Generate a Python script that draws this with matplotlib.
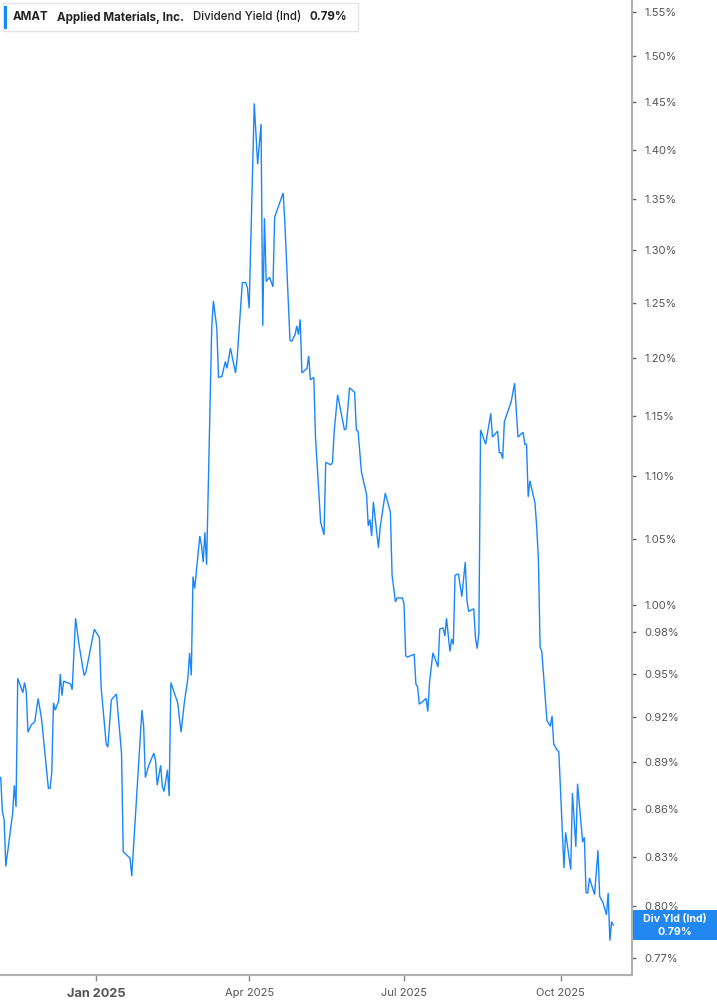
import pandas as pd
import matplotlib
matplotlib.use("Agg")
import matplotlib.pyplot as plt
import matplotlib.dates as mdates
from matplotlib.ticker import FixedLocator, NullLocator, FuncFormatter
from matplotlib.patches import Rectangle

plt.rcParams['font.family'] = ['Inter', 'DejaVu Sans']

# AMAT dividend yield (indicated), values in percent
dates = [
    "2024-11-06", "2024-11-07", "2024-11-08", "2024-11-09", "2024-11-10", "2024-11-12",
    "2024-11-13", "2024-11-14", "2024-11-15", "2024-11-16", "2024-11-19", "2024-11-20",
    "2024-11-21", "2024-11-22", "2024-11-24", "2024-11-26", "2024-11-28", "2024-11-30",
    "2024-12-04", "2024-12-05", "2024-12-06", "2024-12-07", "2024-12-08", "2024-12-10",
    "2024-12-11", "2024-12-12", "2024-12-13", "2024-12-17", "2024-12-18", "2024-12-20",
    "2024-12-22", "2024-12-25", "2024-12-26", "2024-12-27", "2024-12-31", "2025-01-03",
    "2025-01-04", "2025-01-07", "2025-01-08", "2025-01-10", "2025-01-13", "2025-01-16",
    "2025-01-17", "2025-01-21", "2025-01-22", "2025-01-28", "2025-01-29", "2025-01-30",
    "2025-02-01", "2025-02-04", "2025-02-05", "2025-02-06", "2025-02-08", "2025-02-09",
    "2025-02-10", "2025-02-12", "2025-02-13", "2025-02-14", "2025-02-18", "2025-02-20",
    "2025-02-22", "2025-02-24", "2025-02-25", "2025-02-26", "2025-02-27", "2025-02-28",
    "2025-03-03", "2025-03-04", "2025-03-05", "2025-03-06", "2025-03-07", "2025-03-10",
    "2025-03-11", "2025-03-13", "2025-03-14", "2025-03-16", "2025-03-18", "2025-03-19",
    "2025-03-21", "2025-03-24", "2025-03-25", "2025-03-28", "2025-03-30", "2025-03-31",
    "2025-04-01", "2025-04-04", "2025-04-06", "2025-04-08", "2025-04-09", "2025-04-10",
    "2025-04-11", "2025-04-13", "2025-04-15", "2025-04-16", "2025-04-21", "2025-04-22",
    "2025-04-25", "2025-04-26", "2025-04-28", "2025-04-29", "2025-04-30", "2025-05-01",
    "2025-05-02", "2025-05-05", "2025-05-06", "2025-05-07", "2025-05-09", "2025-05-10",
    "2025-05-13", "2025-05-15", "2025-05-16", "2025-05-19", "2025-05-20", "2025-05-21",
    "2025-05-23", "2025-05-27", "2025-05-28", "2025-05-30", "2025-06-02", "2025-06-03",
    "2025-06-04", "2025-06-06", "2025-06-09", "2025-06-10", "2025-06-11", "2025-06-12",
    "2025-06-13", "2025-06-16", "2025-06-17", "2025-06-20", "2025-06-23", "2025-06-24",
    "2025-06-26", "2025-06-27", "2025-06-30", "2025-07-01", "2025-07-02", "2025-07-03",
    "2025-07-07", "2025-07-08", "2025-07-09", "2025-07-10", "2025-07-14", "2025-07-15",
    "2025-07-16", "2025-07-18", "2025-07-21", "2025-07-22", "2025-07-24", "2025-07-25",
    "2025-07-26", "2025-07-28", "2025-07-29", "2025-07-30", "2025-07-31", "2025-08-02",
    "2025-08-04", "2025-08-06", "2025-08-07", "2025-08-08", "2025-08-11", "2025-08-12",
    "2025-08-13", "2025-08-14", "2025-08-15", "2025-08-18", "2025-08-21", "2025-08-22",
    "2025-08-25", "2025-08-26", "2025-08-27", "2025-08-28", "2025-08-29", "2025-09-02",
    "2025-09-04", "2025-09-06", "2025-09-09", "2025-09-10", "2025-09-11", "2025-09-12",
    "2025-09-13", "2025-09-16", "2025-09-17", "2025-09-18", "2025-09-19", "2025-09-20",
    "2025-09-23", "2025-09-25", "2025-09-26", "2025-09-27", "2025-09-29", "2025-09-30",
    "2025-10-03", "2025-10-04", "2025-10-07", "2025-10-08", "2025-10-10", "2025-10-11",
    "2025-10-14", "2025-10-15", "2025-10-16", "2025-10-17", "2025-10-18", "2025-10-21",
    "2025-10-23", "2025-10-24", "2025-10-26", "2025-10-28", "2025-10-29", "2025-10-30",
    "2025-10-31", "2025-11-01",
]
yield_pct = [
    0.880, 0.858, 0.853, 0.824, 0.832, 0.848,
    0.857, 0.875, 0.861, 0.947, 0.937, 0.944,
    0.938, 0.910, 0.915, 0.917, 0.933, 0.919,
    0.873, 0.873, 0.883, 0.930, 0.925, 0.931,
    0.950, 0.935, 0.945, 0.943, 0.939, 0.990,
    0.971, 0.949, 0.951, 0.957, 0.982, 0.976,
    0.941, 0.902, 0.900, 0.932, 0.936, 0.896,
    0.833, 0.829, 0.818, 0.925, 0.914, 0.880,
    0.888, 0.896, 0.891, 0.875, 0.888, 0.874,
    0.871, 0.885, 0.868, 0.944, 0.930, 0.910,
    0.931, 0.947, 0.965, 0.949, 1.021, 1.012,
    1.052, 1.045, 1.032, 1.055, 1.030, 1.227,
    1.252, 1.227, 1.183, 1.184, 1.197, 1.191,
    1.209, 1.187, 1.201, 1.269, 1.269, 1.264,
    1.245, 1.449, 1.385, 1.427, 1.229, 1.331,
    1.270, 1.274, 1.265, 1.332, 1.356, 1.326,
    1.216, 1.215, 1.221, 1.229, 1.221, 1.235,
    1.187, 1.191, 1.202, 1.181, 1.183, 1.132,
    1.063, 1.053, 1.111, 1.109, 1.111, 1.137,
    1.168, 1.138, 1.139, 1.174, 1.170, 1.138,
    1.137, 1.103, 1.085, 1.060, 1.065, 1.052,
    1.079, 1.043, 1.059, 1.086, 1.071, 1.022,
    1.002, 1.005, 1.005, 1.001, 0.963, 0.962,
    0.964, 0.943, 0.941, 0.929, 0.933, 0.924,
    0.944, 0.965, 0.955, 0.982, 0.983, 0.977,
    0.990, 0.966, 0.975, 0.971, 1.022, 1.023,
    1.006, 1.032, 1.003, 0.995, 0.997, 0.976,
    0.968, 0.979, 1.138, 1.126, 1.152, 1.132,
    1.137, 1.119, 1.119, 1.114, 1.145, 1.162,
    1.178, 1.132, 1.136, 1.126, 1.126, 1.083,
    1.096, 1.078, 1.059, 1.034, 0.969, 0.966,
    0.918, 0.914, 0.921, 0.902, 0.898, 0.897,
    0.823, 0.845, 0.822, 0.870, 0.836, 0.876,
    0.839, 0.842, 0.808, 0.808, 0.817, 0.807,
    0.834, 0.806, 0.802, 0.795, 0.808, 0.780,
    0.791, 0.789,
]

ytick_vals = [0.77, 0.80, 0.83, 0.86, 0.89, 0.92, 0.95, 0.98, 1.00, 1.05,
              1.10, 1.15, 1.20, 1.25, 1.30, 1.35, 1.40, 1.45, 1.50, 1.55]
xtick_dates = ["2025-01-01", "2025-04-01", "2025-07-01", "2025-10-01"]
xtick_labels = ["Jan 2025", "Apr 2025", "Jul 2025", "Oct 2025"]

ticker = "AMAT"
company = "Applied Materials, Inc."
metric = "Dividend Yield (Ind)"
short_metric = "Div Yld (Ind)"

line_color = "#1a86fb"
axis_color = "#b0b0b0"
label_color = "#555555"

x = pd.to_datetime(dates)
last = yield_pct[-1]

W, H = 717, 1005
fig = plt.figure(figsize=(W / 100, H / 100), dpi=100)
ax = fig.add_axes([0, 30 / H, 632 / W, 975 / H])

ax.plot(x, yield_pct, color=line_color, lw=1.0, solid_joinstyle="miter")

ax.set_yscale("log")
ax.set_ylim(0.7604, 1.564)
ax.set_xlim(pd.Timestamp("2024-11-05 14:00"), pd.Timestamp("2025-11-12"))

ax.yaxis.set_major_locator(FixedLocator(ytick_vals))
ax.yaxis.set_minor_locator(NullLocator())
ax.yaxis.set_major_formatter(FuncFormatter(lambda v, p: "{:.2f}%".format(v)))
ax.yaxis.tick_right()
ax.tick_params(axis="y", length=3, width=1, color="#666666", labelsize=8,
               labelcolor=label_color, pad=6)

ax.set_xticks(pd.to_datetime(xtick_dates))
ax.set_xticklabels(xtick_labels)
ax.xaxis.set_minor_locator(NullLocator())
ax.tick_params(axis="x", length=4, width=1, color="#888888", labelsize=8,
               labelcolor=label_color, pad=5)
xl = ax.get_xticklabels()
xl[0].set_fontweight("bold")
xl[0].set_fontsize(9.2)

for side in ["top", "left"]:
    ax.spines[side].set_visible(False)
for side in ["right", "bottom"]:
    ax.spines[side].set_color(axis_color)
    ax.spines[side].set_linewidth(1.5)

# header legend box
fig.patches.append(Rectangle((3 / W, 1 - 31 / H), 355 / W, 28 / H, transform=fig.transFigure,
                             facecolor="white", edgecolor="#e4e4e4", lw=1, zorder=5))
fig.patches.append(Rectangle((4 / W, 1 - 29 / H), 3 / W, 23 / H, transform=fig.transFigure,
                             facecolor=line_color, edgecolor="none", zorder=6))
ty = 1 - 17.5 / H
hdr = dict(fontsize=8.3, color="#222222", va="center", zorder=7)
fig.text(13 / W, ty, ticker, fontweight="bold", **hdr)
fig.text(57 / W, ty, company, fontweight="bold", **hdr)
fig.text(193 / W, ty, metric, fontweight="medium", **hdr)
fig.text(309 / W, ty, "{:.2f}%".format(last), fontweight="bold", **hdr)

# last value tag on the right axis
disp_y = ax.transData.transform((mdates.date2num(x[-1]), last))[1]
fy = disp_y / fig.dpi / fig.get_figheight()
box_h = 30 / H
fig.patches.append(Rectangle((633 / W, fy - box_h / 2), 84 / W, box_h, transform=fig.transFigure,
                             facecolor="#2188f2", edgecolor="none", zorder=5))
fig.text(675 / W, fy + 6.5 / H, short_metric, fontsize=7.7, fontweight="bold", color="white",
         ha="center", va="center", zorder=7)
fig.text(675 / W, fy - 6.5 / H, "{:.2f}%".format(last), fontsize=7.7, fontweight="bold",
         color="white", ha="center", va="center", zorder=7)

fig.savefig("out.png", dpi=100)
